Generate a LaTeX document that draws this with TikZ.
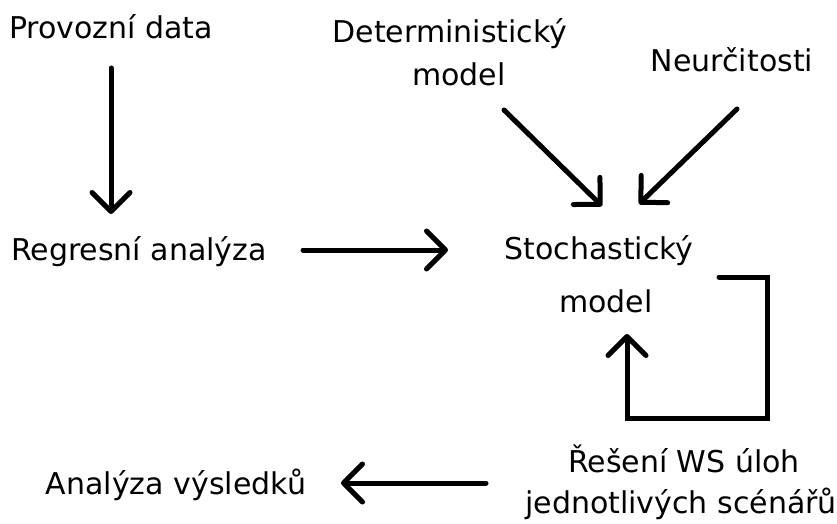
\documentclass[tikz,border=0pt]{standalone}
\usepackage{fontspec}
\setmainfont{DejaVu Sans}
\usetikzlibrary{arrows.meta}
\begin{document}
\begin{tikzpicture}[x=1pt,y=1pt,
  lbl/.style={anchor=base,inner sep=0pt,font=\fontsize{30}{36}\selectfont},
  conn/.style={line width=5pt,line cap=round,line join=round,
    -{Straight Barb[length=19pt,width=38pt,round]}}]
\useasboundingbox (0,0) rectangle (837,523);
% texts
\node[lbl] (pd) at (111,484) {Provozní data};
\node[lbl] (det) at (450,480) {Deterministický};
\node[lbl] (detm) at (459,437) {model};
\node[lbl] (neu) at (732,451) {Neurčitosti};
\node[lbl] (reg) at (139,263) {Regresní analýza};
\node[lbl] (sto) at (599,264) {Stochastický};
\node[lbl] (stom) at (606,211) {model};
\node[lbl] (res) at (684,51) {Řešení WS úloh};
\node[lbl] (resj) at (681,10) {jednotlivých scénářů};
\node[lbl] (ana) at (176,29) {Analýza výsledků};
% connector end points
\coordinate (a1s) at (111,455);
\coordinate (a1e) at (111,309);
\coordinate (a2s) at (504,413);
\coordinate (a2e) at (602,317);
\coordinate (a3s) at (737,414);
\coordinate (a3e) at (639,319);
\coordinate (a4s) at (303,273);
\coordinate (a4e) at (448,273);
\coordinate (l1) at (719,246);
\coordinate (l2) at (767,246);
\coordinate (l3) at (767,105);
\coordinate (l4) at (627,105);
\coordinate (l5) at (627,189);
\coordinate (a5s) at (486,40);
\coordinate (a5e) at (341,40);
% connectors
\draw[conn] (a1s) -- (a1e);
\draw[conn] (a2s) -- (a2e);
\draw[conn] (a3s) -- (a3e);
\draw[conn] (a4s) -- (a4e);
\draw[conn,line join=miter] (l1) -- (l2) -- (l3) -- (l4) -- (l5);
\draw[conn] (a5s) -- (a5e);
\end{tikzpicture}
\end{document}
